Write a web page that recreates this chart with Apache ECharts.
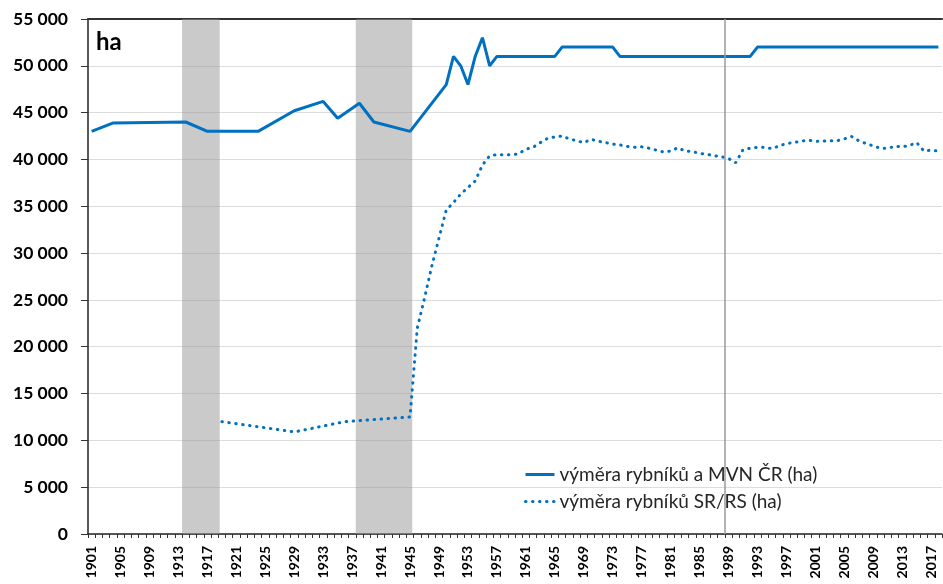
<!DOCTYPE html>
<html>
<head>
<meta charset="utf-8">
<script src="https://cdn.jsdelivr.net/npm/echarts@6/dist/echarts.min.js"></script>
<style>
html,body{margin:0;padding:0;background:#fff;}
#chart{width:943px;height:584px;}
</style>
</head>
<body>
<div id="chart"></div>
<script>
// ---- data ----
var firstYear = 1901, lastYear = 2018;
var years = [];
for (var y = firstYear; y <= lastYear; y++) years.push(String(y));

// výměra rybníků a MVN ČR (ha) - vertices of the line
var crYears  = [1901, 1904, 1914, 1917, 1924, 1929, 1933, 1935, 1938, 1940, 1945, 1950, 1951, 1952, 1953, 1954, 1955, 1956, 1957, 1965, 1966, 1973, 1974, 1992, 1993, 2018];
var crValues = [43000, 43900, 44000, 43000, 43000, 45200, 46200, 44400, 46000, 44000, 43000, 48000, 51000, 50000, 48000, 51000, 53000, 50000, 51000, 51000, 52000, 52000, 51000, 51000, 52000, 52000];

// výměra rybníků SR/RS (ha)
var srYears  = [1919, 1929, 1936, 1945, 1946, 1947, 1948, 1949, 1950, 1951, 1952, 1953, 1954, 1955, 1956, 1957, 1958, 1959, 1960,
                1961, 1962, 1963, 1964, 1965, 1966, 1967, 1968, 1969, 1970, 1971, 1972, 1973, 1974, 1975, 1976, 1977, 1978, 1979, 1980,
                1981, 1982, 1983, 1984, 1985, 1986, 1987, 1988, 1989, 1990, 1991, 1992, 1993, 1994, 1995, 1996, 1997, 1998, 1999, 2000,
                2001, 2002, 2003, 2004, 2005, 2006, 2007, 2008, 2009, 2010, 2011, 2012, 2013, 2014, 2015, 2016, 2017, 2018];
var srValues = [12000, 10900, 12000, 12500, 22000, 25200, 28600, 31600, 34600, 35400, 36300, 37000, 37700, 39400, 40400, 40500, 40500, 40500, 40600,
                41100, 41300, 41800, 42250, 42400, 42500, 42200, 42000, 41800, 42150, 41950, 41800, 41650, 41550, 41400, 41300, 41350, 41200, 41000, 40800,
                40900, 41250, 40900, 40850, 40650, 40550, 40400, 40300, 40100, 39650, 41050, 41200, 41300, 41300, 41150, 41450, 41700, 41800, 41950, 42050,
                41950, 41950, 42000, 42000, 42200, 42450, 42000, 41700, 41450, 41200, 41200, 41400, 41350, 41500, 41800, 40900, 41000, 40900];

// shaded war periods and marker year
var warStart = [1914, 1938];
var warEnd   = [1918, 1945];
var markerYear = 1989;

var seriesNames = ['výměra rybníků a MVN ČR (ha)', 'výměra rybníků SR/RS (ha)'];
var yTicks = { min: 0, max: 55000, step: 5000 };
var unitLabel = 'ha';

// ---- build ----
function toCategory(ys, vs) {
  var out = years.map(function () { return null; });
  ys.forEach(function (yr, i) { out[years.indexOf(String(yr))] = vs[i]; });
  return out;
}
var FONT = 'Lato, "Liberation Sans", sans-serif';
var BLUE = '#0070c0';

var chart = echarts.init(document.getElementById('chart'), null, { renderer: 'canvas' });
chart.setOption({
  animation: false,
  backgroundColor: '#ffffff',
  textStyle: { fontFamily: FONT },
  grid: { left: 88, right: 1, top: 19, bottom: 50, containLabel: false },
  graphic: [{
    type: 'text', left: 96, top: 30, z: 10,
    style: { text: unitLabel, font: 'bold 24px ' + FONT, fill: '#000' }
  }],
  legend: {
    orient: 'vertical', left: 519, top: 460, itemWidth: 29, itemHeight: 14, itemGap: 8,
    itemStyle: { opacity: 0 },
    lineStyle: { width: 3 },
    textStyle: { fontSize: 19, color: '#262626', fontFamily: FONT },
    data: seriesNames
  },
  xAxis: [{
    type: 'category', data: years, boundaryGap: true, position: 'bottom',
    axisLine: { lineStyle: { color: '#222', width: 1.5 } },
    axisTick: { show: true, interval: 0, length: 4, lineStyle: { color: '#333' } },
    axisLabel: { interval: 3, rotate: 90, margin: 12, fontSize: 14, fontWeight: 'bold', color: '#000', fontFamily: FONT },
    splitLine: { show: false }
  }, {
    type: 'value', position: 'top', min: firstYear - 0.5, max: lastYear + 0.5,
    axisLine: { show: true, onZero: false, lineStyle: { color: '#333', width: 2 } },
    axisTick: { show: false }, axisLabel: { show: false }, splitLine: { show: false }
  }],
  yAxis: {
    type: 'value', min: yTicks.min, max: yTicks.max, interval: yTicks.step,
    axisLine: { show: true, lineStyle: { color: '#222', width: 1.5 } },
    axisTick: { show: true, length: 7, lineStyle: { color: '#333' } },
    axisLabel: {
      margin: 20, fontSize: 17.5, fontWeight: 'bold', color: '#000', fontFamily: FONT,
      formatter: function (v) { return String(v).replace(/\B(?=(\d{3})+(?!\d))/g, ' '); }
    },
    splitLine: { lineStyle: { color: '#dcdcdc', width: 1 } }
  },
  series: [{
    name: '_bands', type: 'line', xAxisIndex: 1, data: [], silent: true, z: 1,
    markArea: {
      silent: true,
      itemStyle: { color: 'rgba(150,150,150,0.5)' },
      data: warStart.map(function (s, i) { return [{ xAxis: s - 0.5 }, { xAxis: warEnd[i] + (i === 0 ? 0.7 : 0.3) }]; })
    },
    markLine: {
      silent: true, symbol: 'none', label: { show: false },
      lineStyle: { color: '#9a9a9a', width: 1.5, type: 'solid' },
      data: [{ xAxis: markerYear - 0.5 }]
    }
  }, {
    name: seriesNames[0], type: 'line', data: toCategory(crYears, crValues), connectNulls: true,
    symbol: 'none', z: 3,
    lineStyle: { color: BLUE, width: 3 }, itemStyle: { color: BLUE }
  }, {
    name: seriesNames[1], type: 'line', data: toCategory(srYears, srValues), connectNulls: true,
    symbol: 'none', z: 3,
    lineStyle: { color: BLUE, width: 3, type: [0.5, 6.5], cap: 'round' }, itemStyle: { color: BLUE }
  }]
});
</script>
</body>
</html>
